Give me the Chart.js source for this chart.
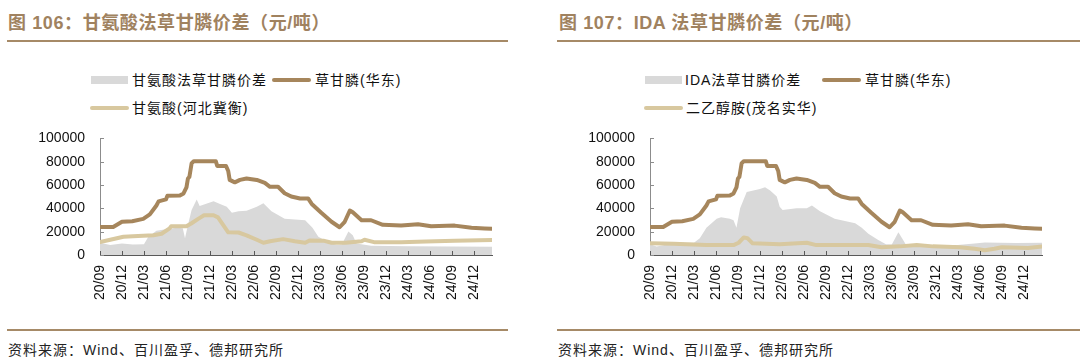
<!DOCTYPE html>
<html>
<head>
<meta charset="utf-8">
<script src="https://cdn.jsdelivr.net/npm/chart.js@4/dist/chart.umd.min.js"></script>
<style>
  body { margin: 0; width: 1080px; height: 361px; background: #fff; position: relative; overflow: hidden;
         font-family: "Liberation Sans", "Noto Sans CJK SC", sans-serif; }
  .title { position: absolute; top: 12px; font-size: 18px; line-height: 22px; font-weight: bold; color: #a0825f;
           white-space: nowrap; letter-spacing: 0.6px; }
  .rule { position: absolute; height: 2px; background: #a68a67; }
  .src { position: absolute; top: 342px; font-size: 14px; line-height: 16px; color: #222; white-space: nowrap; letter-spacing: 1px; }
  .box { position: absolute; width: 540px; height: 200px; top: 115px; }
  .lt { position: absolute; font-size: 14px; line-height: 16px; color: #111; white-space: nowrap; letter-spacing: 1px; }
  .sw { position: absolute; }
</style>
</head>
<body>
<div class="title" style="left:8px">图 106：甘氨酸法草甘膦价差（元/吨）</div>
<div class="title" style="left:559px">图 107：IDA 法草甘膦价差（元/吨）</div>
<div class="rule" style="left:7px;width:501px;top:40px"></div>
<div class="rule" style="left:557px;width:523px;top:40px"></div>
<div class="rule" style="left:7px;width:501px;top:329px"></div>
<div class="rule" style="left:557px;width:523px;top:329px"></div>
<div class="src" style="left:8px">资料来源：Wind、百川盈孚、德邦研究所</div>
<div class="src" style="left:558px">资料来源：Wind、百川盈孚、德邦研究所</div>
<div id="legA"></div>
<div id="legB"></div>
<div class="box" style="left:0"><canvas id="a"></canvas></div>
<div class="box" style="left:550px"><canvas id="b"></canvas></div>
<script>
// x = months since 2020/09
const tickLabels = ["20/09","20/12","21/03","21/06","21/09","21/12","22/03","22/06","22/09","22/12",
  "23/03","23/06","23/09","23/12","24/03","24/06","24/09","24/12"];
const yTicks = [0, 20000, 40000, 60000, 80000, 100000];

// 草甘膦(华东)
const glyT = [0, 1.8, 3.0, 4.4, 5.9, 6.8, 7.7, 8.0, 9.0, 9.2, 10.9, 11.4, 11.8, 12.0, 12.2, 12.5, 12.8, 15.8, 16.0, 17.2,
  17.5, 17.7, 18.4, 19.1, 20.0, 21.4, 22.5, 23.2, 24.3, 25.2, 26.1, 27.3, 28.4, 28.9, 30.2, 31.6, 32.7, 33.4, 34.1, 34.5,
  35.7, 37.0, 38.6, 41.1, 43.4, 45.2, 48.4, 50.7, 52.5, 53.5];
const glyV = [24100, 24000, 28500, 29000, 31000, 34800, 42500, 46000, 47700, 50800, 51000, 52800, 58000, 65600, 67000,
  78500, 80500, 80500, 76400, 76400, 72000, 64400, 62300, 64400, 65600, 64400, 61800, 58500, 58500, 53000,
  50200, 48500, 48500, 43800, 36200, 28500, 23800, 28500, 38200, 36700, 29800, 29800, 25900, 25200, 26400,
  24600, 25200, 23300, 22800, 22500];

// 甘氨酸法草甘膦价差
const spreadGlyT = [0, 1.4, 3.0, 4.5, 6.0, 6.6, 7.7, 9.0, 10.5, 11.3, 11.6, 11.9, 12.5, 13.2, 13.6, 14.5, 15.5, 16.3, 17.3, 18.0,
  18.9, 20.0, 21.4, 22.3, 23.4, 25.2, 28.0, 29.0, 29.8, 31.3, 32.3, 33.0, 33.9, 34.5, 35.0, 37.0, 42.0, 48.0, 53.5];
const spreadGlyV = [10500, 8500, 9800, 9000, 9200, 15600, 20800, 22000, 23300, 23000, 14400, 23000, 38700, 47700, 42000,
  44000, 46000, 44000, 41300, 36200, 37500, 38000, 41300, 44400, 37500, 31000, 29800, 23300, 15600, 10500,
  8500, 9000, 20200, 17000, 9800, 8000, 7500, 7200, 7000];

// 甘氨酸(河北冀衡)
const glycT = [0, 1.4, 3.2, 4.5, 7.3, 8.4, 9.5, 9.7, 11.8, 12.5, 13.4, 14.2, 15.5, 16.1, 16.8, 17.5, 18.9, 20.0, 21.4, 22.3,
  23.2, 25.0, 26.6, 28.0, 28.6, 30.5, 31.6, 33.5, 35.7, 36.1, 37.4, 41.1, 44.5, 48.4, 53.5];
const glycV = [11000, 13100, 15600, 16000, 16900, 18200, 22800, 24600, 24600, 27200, 31000, 34100, 34100, 32300, 25900,
  19500, 19300, 16900, 13100, 10500, 11800, 13600, 11800, 10500, 12500, 12300, 10500, 10500, 11800, 13100,
  11000, 11000, 11500, 12300, 12800];

// IDA法草甘膦价差
const spreadIdaT = [0, 0.9, 2.0, 3.2, 6.0, 6.8, 7.7, 9.1, 9.7, 10.9, 11.4, 11.8, 12.3, 12.7, 13.2, 15.0, 15.7, 16.4, 17.3, 17.7,
  18.1, 20.0, 21.4, 22.1, 23.2, 25.2, 28.0, 28.9, 29.8, 31.1, 32.2, 33.0, 33.9, 34.4, 34.9, 37.2, 42.0, 44.3, 45.7, 50.0, 53.5];
const spreadIdaV = [9200, 7200, 8500, 10500, 10500, 14400, 23300, 31000, 32300, 31000, 29800, 23300, 40000, 46400, 54000,
  56700, 58000, 55400, 50200, 41300, 38700, 40000, 40000, 42500, 37500, 31000, 27200, 23300, 18200, 13100,
  9200, 9000, 19500, 14400, 9200, 8000, 8500, 9800, 10800, 10200, 10500];

// 二乙醇胺(茂名实华)
const deaT = [0, 3.2, 7.7, 11.4, 12.1, 12.8, 13.3, 14.0, 17.7, 21.4, 22.7, 29.8, 31.6, 34.1, 36.4, 38.6, 42.3, 44.3, 45.7,
  47.0, 48.0, 51.6, 53.5];
const deaV = [10000, 9700, 8500, 8500, 10500, 15100, 14400, 10000, 9200, 10500, 8500, 8500, 6700, 7400, 8500, 7400,
  6700, 5400, 4100, 5400, 6700, 6000, 7200];

const GRAY = "#d9d9d9", BROWN = "#a6865c", TAN = "#d8c89f";
const pts = (t, v) => t.map((x, i) => ({ x: x, y: v[i] }));

const innerTicks = {
  id: "innerTicks",
  afterDraw(chart) {
    const { ctx, chartArea, scales: { x, y } } = chart;
    ctx.save();
    ctx.lineWidth = 1;
    ctx.strokeStyle = "#595959";
    x.ticks.forEach(t => {
      const px = Math.round(x.getPixelForValue(t.value)) + 0.5;
      ctx.beginPath(); ctx.moveTo(px, chartArea.bottom); ctx.lineTo(px, chartArea.bottom - 4); ctx.stroke();
    });
    ctx.strokeStyle = "#8c8c8c";
    y.ticks.forEach(t => {
      const py = Math.round(y.getPixelForValue(t.value)) + 0.5;
      ctx.beginPath(); ctx.moveTo(chartArea.left, py); ctx.lineTo(chartArea.left + 4, py); ctx.stroke();
    });
    ctx.restore();
  }
};

// pos: [swatch left, text left, row center y] for each item
function makeLegend(el, names, pos) {
  const sw = [
    `width:37px;height:8px;background:${GRAY}`,
    `width:39px;height:4px;border-radius:2px;background:${BROWN}`,
    `width:39px;height:4px;border-radius:2px;background:${TAN}`,
  ];
  const hs = [8, 4, 4];
  el.innerHTML = names.map((n, i) => {
    const [sx, tx, cy] = pos[i];
    return `<span class="sw" style="left:${sx}px;top:${cy - hs[i] / 2}px;${sw[i]}"></span>` +
      `<span class="lt" style="left:${tx}px;top:${cy - 8}px">${n}</span>`;
  }).join("");
}

function makeChart(id, spread, rawLine, names) {
  return new Chart(document.getElementById(id).getContext("2d"), {
    type: "line",
    data: {
      datasets: [
        { label: names[0], data: spread, fill: "origin", backgroundColor: GRAY, borderWidth: 0, pointRadius: 0, order: 3 },
        { label: names[1], data: pts(glyT, glyV), borderColor: BROWN, borderWidth: 4, pointRadius: 0,
          borderJoinStyle: "round", borderCapStyle: "round", fill: false, order: 1 },
        { label: names[2], data: rawLine, borderColor: TAN, borderWidth: 4, pointRadius: 0,
          borderJoinStyle: "round", borderCapStyle: "round", fill: false, order: 2 },
      ],
    },
    options: {
      responsive: true,
      maintainAspectRatio: false,
      animation: false,
      layout: { padding: { top: 10, right: 48, bottom: 0, left: 0 } },
      plugins: { legend: { display: false }, tooltip: { enabled: false } },
      scales: {
        x: {
          type: "linear",
          min: 0,
          max: 53.5,
          afterBuildTicks: axis => { axis.ticks = tickLabels.map((_, i) => ({ value: i * 3 })); },
          afterFit: axis => { axis.height = 60; },
          grid: { display: false, drawTicks: false },
          border: { display: true, color: "#595959", width: 1 },
          ticks: {
            autoSkip: false,
            minRotation: 90,
            maxRotation: 90,
            padding: 10,
            color: "#111",
            font: { family: "Liberation Sans", size: 14 },
            callback: v => tickLabels[Math.round(v / 3)],
          },
        },
        y: {
          min: 0,
          max: 100000,
          afterBuildTicks: axis => { axis.ticks = yTicks.map(v => ({ value: v })); },
          afterFit: axis => { axis.width = 100; },
          grid: { display: false, drawTicks: false },
          border: { display: true, color: "#8c8c8c", width: 1 },
          ticks: {
            padding: 15,
            color: "#111",
            font: { family: "Liberation Sans", size: 14 },
            callback: v => String(v),
          },
        },
      },
    },
    plugins: [innerTicks],
  });
}

const namesA = ["甘氨酸法草甘膦价差", "草甘膦(华东)", "甘氨酸(河北冀衡)"];
const namesB = ["IDA法草甘膦价差", "草甘膦(华东)", "二乙醇胺(茂名实华)"];
makeLegend(document.getElementById("legA"), namesA, [[91, 132, 80], [272, 315, 80], [90, 132, 108]]);
makeLegend(document.getElementById("legB"), namesB, [[645, 685, 80], [822, 865, 80], [644, 686, 108]]);

makeChart("a", pts(spreadGlyT, spreadGlyV), pts(glycT, glycV), namesA);
makeChart("b", pts(spreadIdaT, spreadIdaV), pts(deaT, deaV), namesB);
</script>
</body>
</html>
